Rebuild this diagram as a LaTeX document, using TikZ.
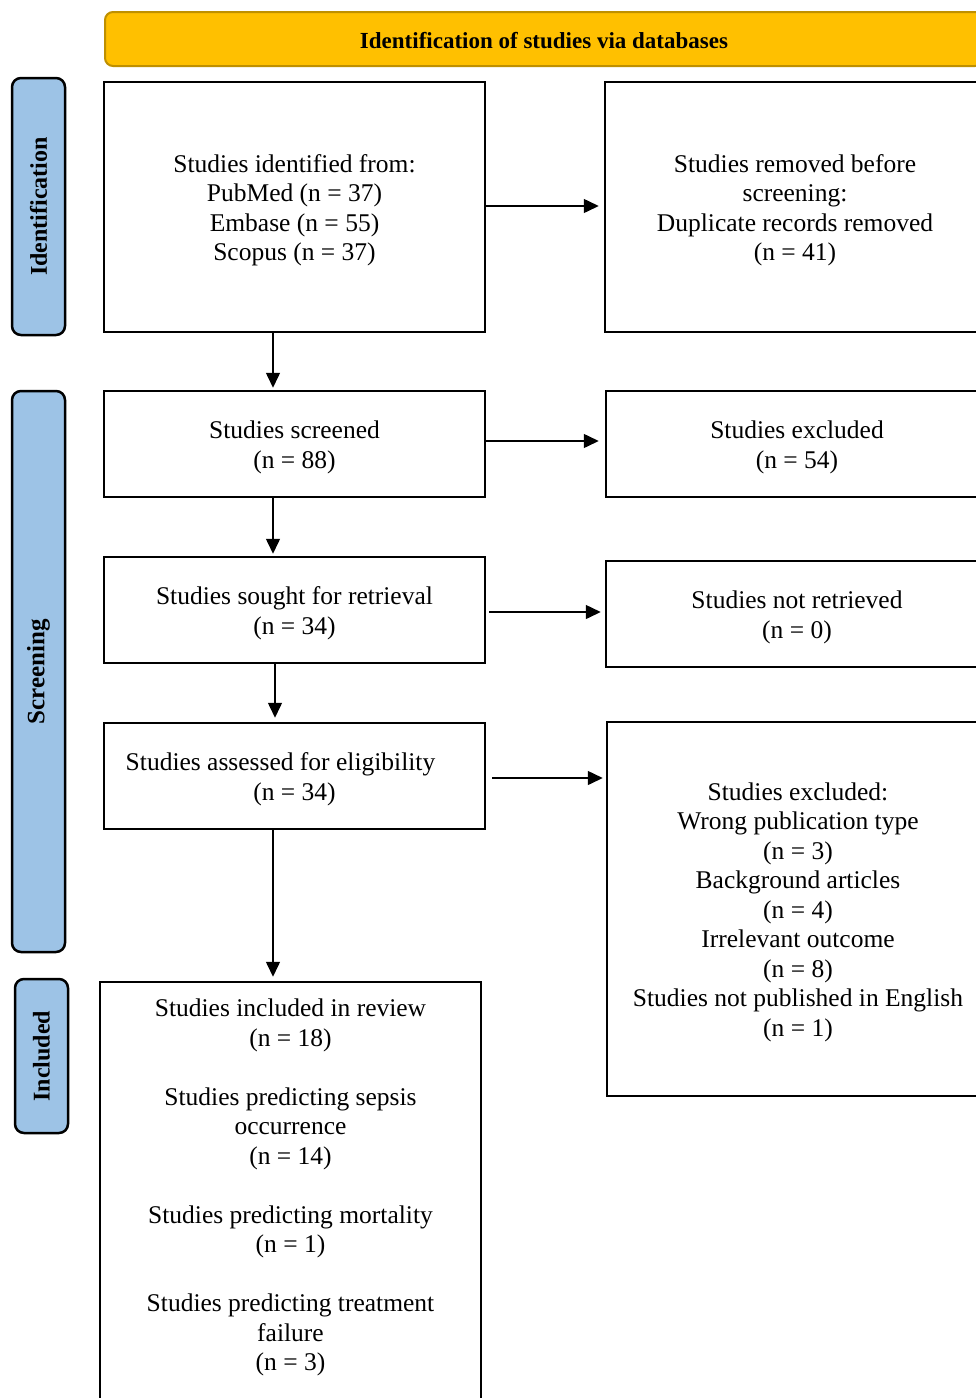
\documentclass[tikz,border=0pt]{standalone}
\usepackage{fontspec}
\setmainfont{Liberation Serif}
\usetikzlibrary{arrows.meta,calc}
\definecolor{gold}{HTML}{FFC000}
\definecolor{golddark}{HTML}{BF9000}
\definecolor{sideblue}{HTML}{9DC3E6}
\newcommand\tgap{\rule{0pt}{24pt}}
\begin{document}
\begin{tikzpicture}[x=1pt,y=-1pt,
 box/.style={draw=black, line width=2.5pt, fill=white, align=center, font=\fontsize{25.5}{29.5}\selectfont, inner sep=0pt},
 side/.style={draw=black, line width=2.5pt, fill=sideblue, rounded corners=9pt, font=\bfseries\fontsize{24}{28}\selectfont, inner sep=0pt, rotate=90},
 title/.style={draw=golddark, line width=2pt, fill=gold, rounded corners=8pt, font=\bfseries\fontsize{23}{27}\selectfont, inner sep=0pt},
 arr/.style={line width=1.5pt, -{Triangle[length=15pt,width=14pt]}}]
\useasboundingbox (0,0) rectangle (976,1398);
\clip (0,0) rectangle (976,1398);
% title
\node[title, minimum width=878pt, minimum height=54pt] (t) at (544,39) {\rule{0pt}{19pt}Identification of studies via databases};
% side labels
\node[side, minimum width=257pt, minimum height=53pt] (sid) at (38.5,206.5) {Identification};
\node[side, minimum width=561pt, minimum height=53pt] (ssc) at (38.5,671.5) {\fontsize{25}{28}\selectfont Screening};
\node[side, minimum width=154pt, minimum height=53pt] (sin) at (41.5,1056) {Included};
% left boxes
\node[box, minimum width=381pt, minimum height=250pt] (b1) at (294.5,207) {\tgap Studies identified from:\\PubMed (n = 37)\\Embase (n = 55)\\Scopus (n = 37)};
\node[box, minimum width=381pt, minimum height=106pt] (b3) at (294.5,444) {\tgap Studies screened\\(n = 88)};
\node[box, minimum width=381pt, minimum height=106pt] (b5) at (294.5,610) {\tgap Studies sought for retrieval\\(n = 34)};
\node[box, minimum width=381pt, minimum height=106pt] (b7) at (294.5,776) {\tgap Studies assessed for eligibility\hspace*{28pt}\\(n = 34)};
\node[box, minimum width=381pt, minimum height=460pt] (b9) at (290.5,1212) {};
\node[align=center, font=\fontsize{25.5}{29.5}\selectfont, inner sep=0pt, anchor=north] (b9t) at (290.5,999)
 {Studies included in review\\(n = 18)\\[29.5pt]Studies predicting sepsis\\occurrence\\(n = 14)\\[29.5pt]Studies predicting mortality\\(n = 1)\\[29.5pt]Studies predicting treatment\\failure\\(n = 3)};
% right boxes
\node[box, minimum width=380pt, minimum height=250pt] (b2) at (795,207) {\tgap Studies removed before\\screening:\\Duplicate records removed\\(n = 41)};
\node[box, minimum width=382pt, minimum height=106pt] (b4) at (797,444) {\tgap Studies excluded\\(n = 54)};
\node[box, minimum width=382pt, minimum height=106pt] (b6) at (797,614) {\tgap Studies not retrieved\\(n = 0)};
\node[box, minimum width=382pt, minimum height=374pt] (b8) at (798,909) {\tgap Studies excluded:\\Wrong publication type\\(n = 3)\\Background articles\\(n = 4)\\Irrelevant outcome\\(n = 8)\\Studies not published in English\\(n = 1)};
% arrows
\coordinate (v1) at (273,0);
\coordinate (v2) at (275,0);
\draw[arr, shorten >=5pt] (b1.east |- 0,206) -- (b2.west |- 0,206);
\draw[arr, shorten >=6pt] (b3.east |- 0,441) -- (b4.west |- 0,441);
\draw[arr, shorten <=3pt, shorten >=4pt] (b5.east |- 0,612) -- (b6.west |- 0,612);
\draw[arr, shorten <=6pt, shorten >=3pt] (b7.east |- 0,778) -- (b8.west |- 0,778);
\draw[arr, shorten >=2pt] (v1 |- b1.south) -- (v1 |- b3.north);
\draw[arr, shorten >=2pt] (v1 |- b3.south) -- (v1 |- b5.north);
\draw[arr, shorten >=4pt] (v2 |- b5.south) -- (v2 |- b7.north);
\draw[arr, shorten >=4pt] (v1 |- b7.south) -- (v1 |- b9.north);
\end{tikzpicture}
\end{document}
